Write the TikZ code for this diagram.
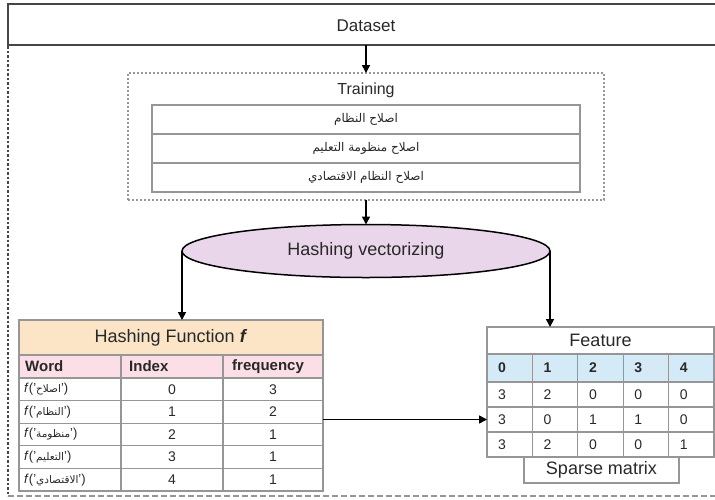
\documentclass[tikz,border=0pt]{standalone}
\usepackage{fontspec}
\setmainfont{Liberation Sans}
\newfontfamily\arabicfont[Script=Arabic]{DejaVu Sans}
\TeXXeTstate=1
\usetikzlibrary{arrows.meta,calc,shapes.geometric}
\definecolor{ellfill}{RGB}{234,214,234}
\definecolor{peach}{RGB}{252,228,198}
\definecolor{pinkhd}{RGB}{252,222,230}
\definecolor{bluehd}{RGB}{212,234,246}
\definecolor{gridgray}{RGB}{150,150,150}
\definecolor{darkline}{RGB}{70,70,70}
\definecolor{txt}{RGB}{40,40,40}
\begin{document}
\begin{tikzpicture}[x=1pt,y=-1pt,
  arr/.style={draw=black, line width=1.6pt, -{Triangle[length=8pt,width=8pt]}},
  cell/.style={draw=gridgray, line width=1.2pt, inner sep=0pt, outer sep=0pt, anchor=north west},
  lbl/.style={inner sep=0pt, text=txt},
  lt/.style={lbl, anchor=west},
  f18/.style={font=\fontsize{18}{21}\selectfont},
  f17/.style={font=\fontsize{17}{20}\selectfont},
  f16/.style={font=\fontsize{16}{19}\selectfont},
  fb15/.style={font=\fontsize{15}{18}\selectfont\bfseries},
  fb14/.style={font=\fontsize{14}{17}\selectfont\bfseries},
  f14/.style={font=\fontsize{14}{17}\selectfont},
  fw/.style={font=\fontsize{13}{15}\selectfont},
  far/.style={font=\fontsize{12}{14}\selectfont\arabicfont}]
\useasboundingbox (0,0) rectangle (715,499);
\clip (0,0) rectangle (715,499);

% outer frame (left dotted, bottom dashed)
\draw[darkline, line width=2pt, dash pattern=on 2.5pt off 2pt] (8,46) -- (8,496);
\draw[gridgray, line width=1.4pt, dash pattern=on 6pt off 3pt] (8,496) -- (715,496);

% Dataset
\node[draw=darkline, line width=2pt, minimum width=716pt, minimum height=41pt, outer sep=0pt, inner sep=0pt] (dataset) at (366,24.5) {};
\node[lbl, f17] (datasettxt) at (366,26) {Dataset};

% Training
\node[draw=gridgray, line width=1.3pt, dash pattern=on 2pt off 2pt, minimum width=476pt, minimum height=127pt, outer sep=0pt, inner sep=0pt] (training) at (366,136.5) {};
\node[lbl, f16] (trainingtxt) at (366,90) {Training};
\node[cell, minimum width=428pt, minimum height=29pt] (tr1) at (152,105) {};
\node[cell, minimum width=428pt, minimum height=29pt] (tr2) at (152,134) {};
\node[cell, minimum width=428pt, minimum height=29pt] (tr3) at (152,163) {};
\node[lbl, far] (tr1t) at (tr1.center) {\beginR اصلاح النظام\endR};
\node[lbl, far] (tr2t) at (tr2.center) {\beginR اصلاح منظومة التعليم\endR};
\node[lbl, far] (tr3t) at (tr3.center) {\beginR اصلاح النظام الاقتصادي\endR};

% Hashing vectorizing
\node[ellipse, draw=black, line width=1.5pt, fill=ellfill, minimum width=368pt, minimum height=53pt, inner sep=0pt, outer sep=0pt, text=txt, f18] (hv) at (366,251) {Hashing vectorizing};

% Hashing Function table
\node[cell, fill=peach, minimum width=304pt, minimum height=35pt, text=txt, f18] (hf) at (19,320) {Hashing Function \textbf{\textit{f}}};
\node[cell, fill=pinkhd, minimum width=102pt, minimum height=23pt] (hc0) at (19,355) {};
\node[cell, fill=pinkhd, minimum width=102pt, minimum height=23pt] (hc1) at (121,355) {};
\node[cell, fill=pinkhd, minimum width=100pt, minimum height=23pt] (hc2) at (223,355) {};
\node[lt, fb15] (hc0t) at ($(hc0.west)+(6,0)$) {Word};
\node[lt, fb15] (hc1t) at ($(hc1.west)+(8,0)$) {Index};
\node[lt, fb15] (hc2t) at ($(hc2.west)+(9,0)$) {frequency};
\foreach \i/\w/\idx/\fr in {1/اصلاح/0/3, 2/النظام/1/2, 3/منظومة/2/1, 4/التعليم/3/1, 5/الاقتصادي/4/1} {
  \pgfmathsetmacro\yy{378+(\i-1)*22.6}
  \node[cell, minimum width=102pt, minimum height=22.6pt] (hw\i) at (19,\yy) {};
  \node[cell, minimum width=102pt, minimum height=22.6pt, text=txt, f14] (hi\i) at (121,\yy) {\idx};
  \node[cell, minimum width=100pt, minimum height=22.6pt, text=txt, f14] (hq\i) at (223,\yy) {\fr};
  \node[lt, fw] (hwt\i) at ($(hw\i.west)+(5,0)$) {\textit{f}('{\arabicfont\fontsize{10.5}{12}\selectfont\beginR \w\endR}')};
}

% Feature table
\node[cell, minimum width=227pt, minimum height=27pt, text=txt, f18] (feat) at (487,327) {Feature};
\foreach \c in {0,...,4} {
  \pgfmathsetmacro\xx{487+\c*45.4}
  \node[cell, fill=bluehd, minimum width=45.4pt, minimum height=28pt] (fh\c) at (\xx,354) {};
  \node[lt, fb14] (fht\c) at ($(fh\c.west)+(11,0)$) {\c};
}
\foreach \v [count=\c from 0] in {3,2,0,0,0} {
  \pgfmathsetmacro\xx{487+\c*45.4}
  \node[cell, minimum width=45.4pt, minimum height=25pt] (f1\c) at (\xx,382) {};
  \node[lt, f14] (ft1\c) at ($(f1\c.west)+(11,0)$) {\v};
}
\foreach \v [count=\c from 0] in {3,0,1,1,0} {
  \pgfmathsetmacro\xx{487+\c*45.4}
  \node[cell, minimum width=45.4pt, minimum height=25pt] (f2\c) at (\xx,407) {};
  \node[lt, f14] (ft2\c) at ($(f2\c.west)+(11,0)$) {\v};
}
\foreach \v [count=\c from 0] in {3,2,0,0,1} {
  \pgfmathsetmacro\xx{487+\c*45.4}
  \node[cell, minimum width=45.4pt, minimum height=25pt] (f3\c) at (\xx,432) {};
  \node[lt, f14] (ft3\c) at ($(f3\c.west)+(11,0)$) {\v};
}
\node[cell, minimum width=155pt, minimum height=26pt, text=txt, f18] (sparse) at (524,457) {Sparse matrix};

% connectors
\draw[arr] (dataset.south) -- (training.north);
\draw[arr] (training.south) -- (hv.north);
\draw[arr] (hv.west) -- (hv.west |- hf.north);
\draw[arr] (hv.east) -- (hv.east |- feat.north);
\draw[arr] (f20.west -| hf.east) -- (f20.west);
\end{tikzpicture}
\end{document}
